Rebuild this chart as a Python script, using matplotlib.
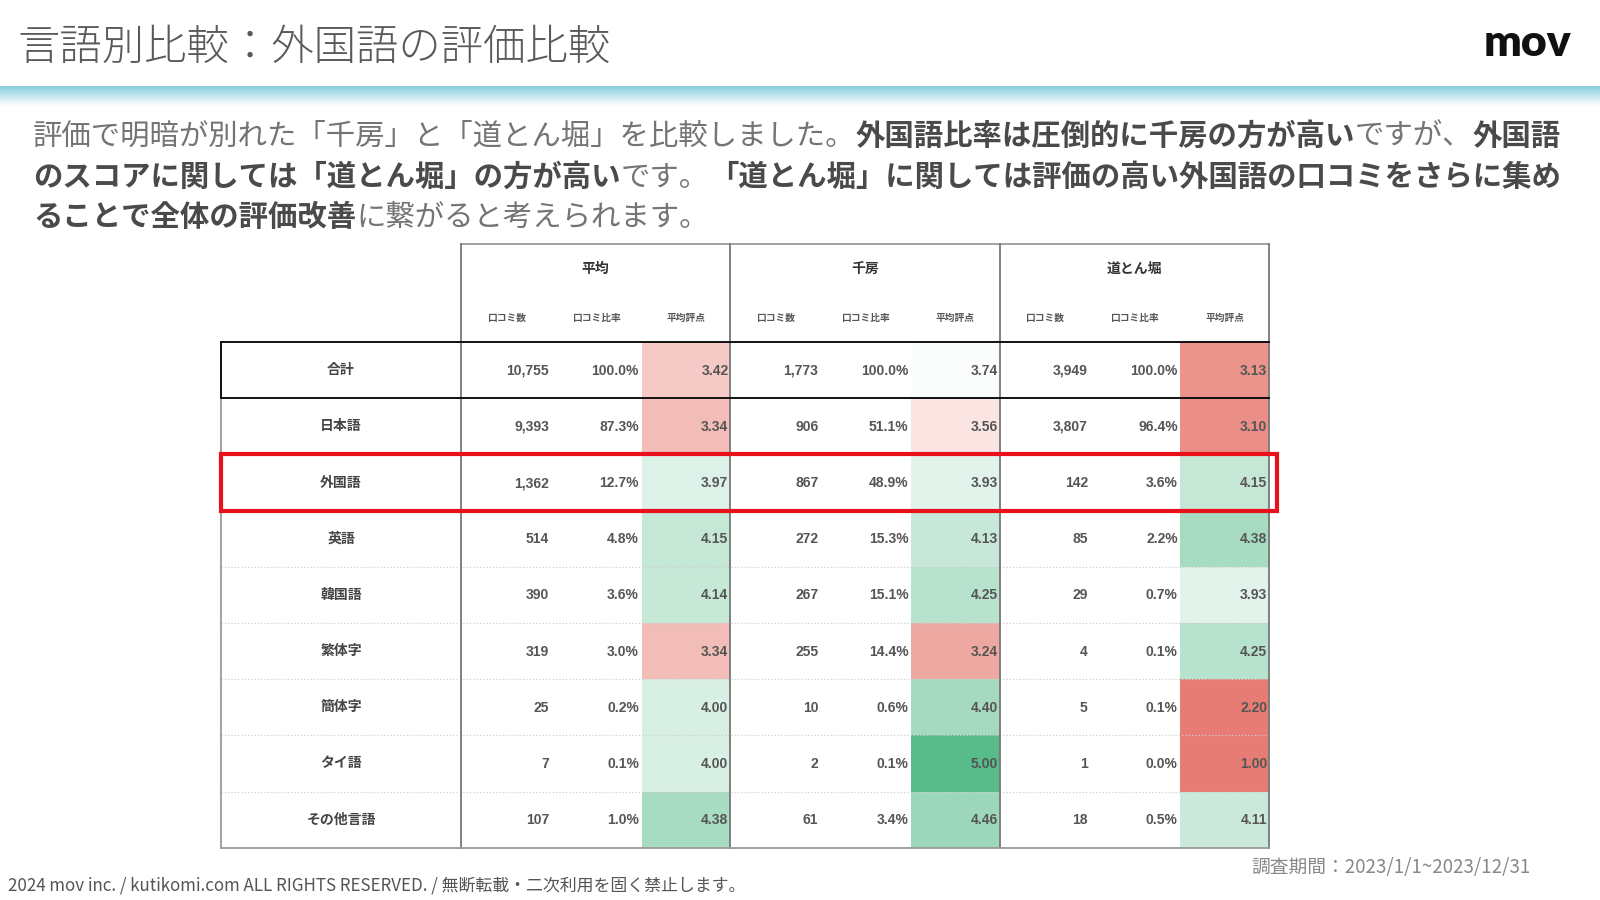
import numpy as np
import matplotlib
matplotlib.use("Agg")
import matplotlib.pyplot as plt
from matplotlib.colors import LinearSegmentedColormap, TwoSlopeNorm

JP = ['Noto Sans CJK JP', 'DejaVu Sans']
NUM = ['Liberation Sans', 'Noto Sans CJK JP']

# --- data ---
languages = ['合計', '日本語', '外国語', '英語', '韓国語', '繁体字', '簡体字', 'タイ語', 'その他言語']
groups = ['平均', '千房', '道とん堀']
sub_headers = ['口コミ数', '口コミ比率', '平均評点']

avg_counts = [10755, 9393, 1362, 514, 390, 319, 25, 7, 107]
avg_ratio = [100.0, 87.3, 12.7, 4.8, 3.6, 3.0, 0.2, 0.1, 1.0]
avg_score = [3.42, 3.34, 3.97, 4.15, 4.14, 3.34, 4.00, 4.00, 4.38]

sen_counts = [1773, 906, 867, 272, 267, 255, 10, 2, 61]
sen_ratio = [100.0, 51.1, 48.9, 15.3, 15.1, 14.4, 0.6, 0.1, 3.4]
sen_score = [3.74, 3.56, 3.93, 4.13, 4.25, 3.24, 4.40, 5.00, 4.46]

dot_counts = [3949, 3807, 142, 85, 29, 4, 5, 1, 18]
dot_ratio = [100.0, 96.4, 3.6, 2.2, 0.7, 0.1, 0.1, 0.0, 0.5]
dot_score = [3.13, 3.10, 4.15, 4.38, 3.93, 4.25, 2.20, 1.00, 4.11]

title = '言語別比較：外国語の評価比較'
para_lines = [
    [('評価で明暗が別れた「千房」と「道とん堀」を比較しました。', False),
     ('外国語比率は圧倒的に千房の方が高い', True), ('ですが、', False), ('外国語', True)],
    [('のスコアに関しては「道とん堀」の方が高い', True), ('です。', False),
     ('「道とん堀」に関しては評価の高い外国語の口コミをさらに集め', True)],
    [('ることで全体の評価改善', True), ('に繋がると考えられます。', False)],
]
footer = '2024 mov inc. / kutikomi.com ALL RIGHTS RESERVED. / 無断転載・二次利用を固く禁止します。'
period = '調査期間：2023/1/1~2023/12/31'

group_data = [(avg_counts, avg_ratio, avg_score),
              (sen_counts, sen_ratio, sen_score),
              (dot_counts, dot_ratio, dot_score)]

# --- layout (pixels) ---
fig = plt.figure(figsize=(16, 9), dpi=100)
ax = fig.add_axes([0, 0, 1, 1])
ax.set_xlim(0, 1600)
ax.set_ylim(900, 0)
ax.axis('off')
renderer = fig.canvas.get_renderer()

# header
ax.text(17, 48, title, fontsize=30.5, color='#5a5a5a', fontweight='light',
        family=JP, va='center', ha='left')
ax.text(1571, 43, 'mov', fontsize=32, color='#111111', fontweight='heavy',
        family=['Lato', 'DejaVu Sans'], va='center', ha='right')
band = LinearSegmentedColormap.from_list('band', ['#88cddd', '#ffffff'])
ax.imshow(np.linspace(0, 1, 50).reshape(-1, 1), cmap=band, aspect='auto',
          extent=[0, 1600, 106, 86], zorder=0)

# paragraph
para_y = [136, 177, 217]
for y, runs in zip(para_y, para_lines):
    x = 33
    for s, bold in runs:
        t = ax.text(x, y, s, fontsize=21.2, family=JP, va='center', ha='left',
                    fontweight='bold' if bold else 'normal',
                    color='#4a4a4a' if bold else '#747474')
        x += t.get_window_extent(renderer).width

# table geometry
tab_left, lab_right = 221, 461
grp_w = 269.4
grp_left = [lab_right + i * grp_w for i in range(3)]
tab_right = grp_left[-1] + grp_w
head_top, body_top = 244, 342
row_h = 56.2
n = len(languages)
row_edges = body_top + row_h * np.arange(n + 1)
row_mid = (row_edges[:-1] + row_edges[1:]) / 2
body_bot = row_edges[-1]

cmap = LinearSegmentedColormap.from_list('score', ['#e67c73', '#ffffff', '#57bb8a'])
norm = TwoSlopeNorm(vmin=3.0, vcenter=3.7, vmax=5.0)

sub_off = [46, 136, 225]
for g, (gname, gl, (cnt, rat, sc)) in enumerate(zip(groups, grp_left, group_data)):
    ax.text(gl + grp_w / 2, 269, gname, fontsize=10, fontweight='bold', color='#333333',
            family=JP, ha='center', va='center')
    for sh, off in zip(sub_headers, sub_off):
        ax.text(gl + off, 318, sh, fontsize=7, fontweight='bold', color='#555555',
                family=JP, ha='center', va='center')
    sc_arr = np.clip(np.array(sc), 3.0, 5.0).reshape(-1, 1)
    ax.pcolormesh([gl + 180.5, gl + grp_w], row_edges, sc_arr, cmap=cmap, norm=norm,
                  shading='flat', zorder=1)
    for i in range(n):
        yb = row_mid[i] - 1
        ax.text(gl + 88, yb, f'{cnt[i]:,}', fontsize=10, fontweight='bold',
                color='#555555', family=NUM, ha='right', va='center_baseline', zorder=3)
        ax.text(gl + 178, yb, f'{rat[i]:.1f}%', fontsize=10, fontweight='bold',
                color='#555555', family=NUM, ha='right', va='center_baseline', zorder=3)
        ax.text(gl + grp_w - 2, yb, f'{sc[i]:.2f}', fontsize=10, fontweight='bold',
                color='#555555', family=NUM, ha='right', va='center_baseline', zorder=3)

for i, lang in enumerate(languages):
    ax.text((tab_left + lab_right) / 2, row_mid[i], lang, fontsize=10, fontweight='bold',
            color='#444444', family=JP, ha='center', va='center', zorder=3)

# grid lines
for y in row_edges[3:-1]:
    ax.plot([tab_left, tab_right], [y, y], color='#cfcfcf', lw=0.9, ls=':', zorder=2)
ax.plot([tab_left, tab_right], [row_edges[2]] * 2, color='#cfcfcf', lw=0.9, zorder=2)
ax.plot([lab_right, tab_right], [head_top, head_top], color='#9a9a9a', lw=1.3, zorder=2)
for x in grp_left + [tab_right]:
    ax.plot([x, x], [head_top, body_bot], color='#777777', lw=1.3, zorder=2)
ax.plot([tab_left, tab_left], [body_top, body_bot], color='#9a9a9a', lw=1.3, zorder=2)
ax.plot([tab_left, tab_right], [body_bot, body_bot], color='#9a9a9a', lw=1.3, zorder=2)
ax.plot([tab_left, tab_right], [body_top, body_top], color='#111111', lw=1.4, zorder=2)
ax.plot([tab_left, tab_right], [row_edges[1]] * 2, color='#111111', lw=1.4, zorder=2)
ax.plot([tab_left, tab_left], [body_top, row_edges[1]], color='#111111', lw=1.4, zorder=2)

# highlight box around 外国語
hl = languages.index('外国語')
ax.add_patch(plt.Rectangle((tab_left, row_edges[hl]), tab_right + 8 - tab_left, row_h,
                           fill=False, ec='#e8101a', lw=3, zorder=4))

# footer
ax.text(1531, 867, period, fontsize=13.5, color='#888888', family=JP, ha='right', va='center')
ax.text(8, 886, footer, fontsize=12.2, color='#555555',
        family=['Liberation Sans Narrow', 'Noto Sans CJK JP'], ha='left', va='center')

fig.savefig('out.png', dpi=100)
